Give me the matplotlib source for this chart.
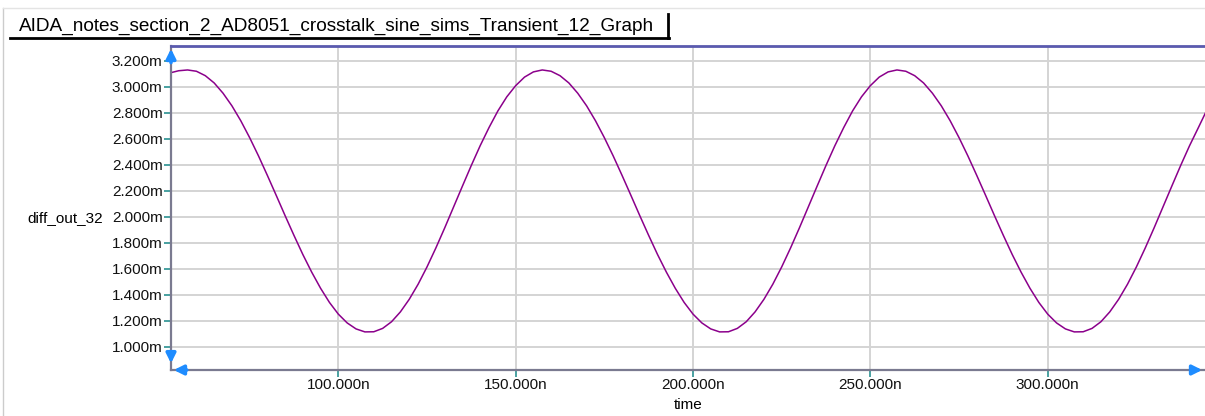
import numpy as np
import matplotlib.pyplot as plt
from matplotlib.lines import Line2D
from matplotlib.ticker import FuncFormatter

plt.rcParams['font.family'] = ['Liberation Sans', 'DejaVu Sans']
plt.rcParams['font.size'] = 11

# sample times [ns]
time_ns = np.arange(52.5, 345.1, 2.5)

# diff_out_32 [mV]
diff_out_mv = [
    3.108, 3.125, 3.131,
    3.121, 3.087, 3.031, 2.952, 2.855, 2.740, 2.610, 2.469, 2.319, 2.165,
    2.009, 1.857, 1.710, 1.574, 1.450, 1.341, 1.251, 1.183, 1.137, 1.114,
    1.115, 1.141, 1.192, 1.268, 1.365, 1.481, 1.614, 1.760, 1.915, 2.076,
    2.237, 2.396, 2.548, 2.688, 2.816, 2.924, 3.010, 3.076, 3.116, 3.131,
    3.121, 3.087, 3.031, 2.952, 2.855, 2.740, 2.610, 2.469, 2.319, 2.165,
    2.009, 1.857, 1.710, 1.574, 1.450, 1.341, 1.251, 1.183, 1.137, 1.114,
    1.115, 1.141, 1.192, 1.268, 1.365, 1.481, 1.614, 1.760, 1.915, 2.076,
    2.237, 2.396, 2.548, 2.688, 2.816, 2.924, 3.010, 3.076, 3.116, 3.131,
    3.121, 3.087, 3.031, 2.952, 2.855, 2.740, 2.610, 2.469, 2.319, 2.165,
    2.009, 1.857, 1.710, 1.574, 1.450, 1.341, 1.251, 1.183, 1.137, 1.114,
    1.115, 1.141, 1.192, 1.268, 1.365, 1.481, 1.614, 1.760, 1.915, 2.076,
    2.237, 2.396, 2.548, 2.688, 2.830,
]

x_ticks = [100, 150, 200, 250, 300]
y_ticks = [1.0, 1.2, 1.4, 1.6, 1.8, 2.0, 2.2, 2.4, 2.6, 2.8, 3.0, 3.2]

title = 'AIDA_notes_section_2_AD8051_crosstalk_sine_sims_Transient_12_Graph'

fig = plt.figure(figsize=(12.05, 4.16), dpi=100)
ax = fig.add_axes([171 / 1205, 1 - 370 / 416, 1 - 171 / 1205, (370 - 46) / 416])

ax.plot(time_ns, diff_out_mv, color='#8b008b', linewidth=1.1)

ax.set_xlim(52.83, 344.35)
ax.set_ylim(0.8206, 3.3155)
ax.set_xticks(x_ticks)
ax.set_yticks(y_ticks)
ax.xaxis.set_major_formatter(FuncFormatter(lambda v, p: '%.3fn' % v))
ax.yaxis.set_major_formatter(FuncFormatter(lambda v, p: '%.3fm' % v))
ax.grid(True, color='#d4d4d4', linewidth=1.4)
ax.tick_params(axis='both', colors='#3a9a9a', length=5, width=1.3, labelsize=11,
               labelcolor='#111111', pad=1)

ax.spines['right'].set_visible(False)
ax.spines['top'].set_color('#5a5aae')
ax.spines['top'].set_linewidth(2)
ax.spines['left'].set_color('#7a7a90')
ax.spines['left'].set_linewidth(1.6)
ax.spines['bottom'].set_color('#7a7a90')
ax.spines['bottom'].set_linewidth(1.6)

ax.set_xlabel('time', fontsize=11, labelpad=4)
ax.set_ylabel('diff_out_32', fontsize=11, rotation=0, ha='left', va='center')
ax.yaxis.set_label_coords(-144 / 1034, 0.47)

# blue arrows at axis ends
arrow_kw = dict(arrowstyle='-|>', color='#1e8cff', lw=2.5, mutation_scale=14)
ax.annotate('', xy=(0, 1.0), xytext=(0, 0.94), xycoords='axes fraction',
            arrowprops=arrow_kw, annotation_clip=False)
ax.annotate('', xy=(0, 0.012), xytext=(0, 0.058), xycoords='axes fraction',
            arrowprops=arrow_kw, annotation_clip=False)
ax.annotate('', xy=(0.0, 0.0), xytext=(0.018, 0.0), xycoords='axes fraction',
            arrowprops=arrow_kw, annotation_clip=False)
ax.annotate('', xy=(1.0, 0.0), xytext=(0.985, 0.0), xycoords='axes fraction',
            arrowprops=arrow_kw, annotation_clip=False)

# title tab
fig.text(19 / 1205, 1 - 26 / 416, title, fontsize=13.7, ha='left', va='center')
fig.add_artist(Line2D([10 / 1205, 669 / 1205], [1 - 38 / 416, 1 - 38 / 416],
                      color='black', linewidth=2))
fig.add_artist(Line2D([668 / 1205, 668 / 1205], [1 - 14 / 416, 1 - 38 / 416],
                      color='black', linewidth=2))

# window frame
fig.add_artist(Line2D([3 / 1205, 3 / 1205], [0, 1 - 8 / 416], color='#cccccc', linewidth=1))
fig.add_artist(Line2D([3 / 1205, 1], [1 - 8 / 416, 1 - 8 / 416], color='#e4e4e4', linewidth=1))

fig.savefig('out.png', dpi=100)
